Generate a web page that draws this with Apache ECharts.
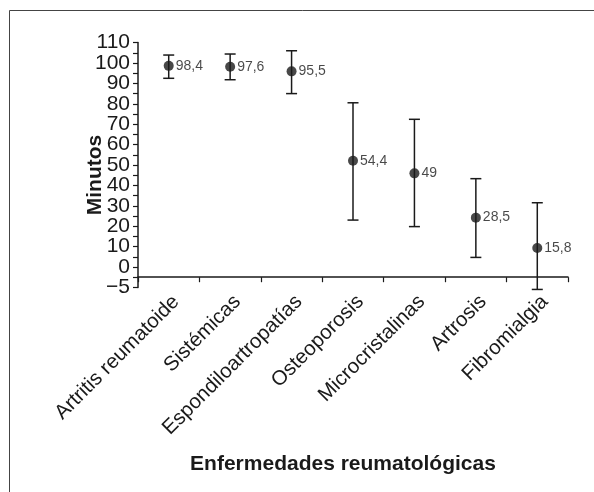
<!DOCTYPE html>
<html>
<head>
<meta charset="utf-8">
<script src="https://cdn.jsdelivr.net/npm/echarts@6/dist/echarts.min.js"></script>
<style>html,body{margin:0;padding:0;background:#fff;}#c{width:594px;height:492px;}</style>
</head>
<body>
<div id="c"></div>
<script>
var categories = ['Artritis reumatoide','Sistémicas','Espondiloartropatías','Osteoporosis','Microcristalinas','Artrosis','Fibromialgia'];
var means = [98.6, 98.2, 95.9, 52.1, 45.9, 24.2, 9.3];
var lower = [92.5, 91.8, 85, 23, 19.8, 4.7, -11];
var upper = [103.9, 104.4, 106, 80.5, 72.4, 43.3, 31.5];
var pointLabels = ['98,4','97,6','95,5','54,4','49','28,5','15,8'];

var ink = '#1a1a1a';
var chart = echarts.init(document.getElementById('c'), null, {renderer: 'canvas'});
var errData = categories.map(function (c, i) { return [i, lower[i], upper[i]]; });

chart.setOption({
  animation: false,
  backgroundColor: '#fff',
  graphic: [{
    type: 'rect', shape: {x: 9.5, y: 10.5, width: 700, height: 600},
    style: {fill: 'none', stroke: '#444', lineWidth: 1}, silent: true, z: -10
  }],
  grid: {left: 138, right: 26, top: 42.6, bottom: 204.6, containLabel: false},
  xAxis: {
    type: 'category',
    data: categories,
    offset: -10.2,
    boundaryGap: true,
    axisLine: {show: true, onZero: false, lineStyle: {color: ink, width: 1.5}},
    axisTick: {show: true, length: 5, alignWithLabel: false, lineStyle: {color: ink, width: 1.2}},
    axisLabel: {rotate: 45, interval: 0, margin: 14, fontSize: 20.5, color: ink, verticalAlign: 'top', fontFamily: 'Liberation Sans, Arial, sans-serif'},
    name: 'Enfermedades reumatológicas',
    nameLocation: 'middle',
    nameGap: 177,
    nameMoveOverlap: false,
    nameTextStyle: {fontSize: 21, fontWeight: 'bold', color: ink, fontFamily: 'Liberation Sans, Arial, sans-serif', padding: [0, 20, 0, 0]}
  },
  yAxis: {
    type: 'value',
    min: -10, max: 110, interval: 5,
    splitLine: {show: false},
    axisLine: {show: true, lineStyle: {color: ink, width: 1.5}},
    axisTick: {show: true, length: 5, lineStyle: {color: ink, width: 1.2}},
    axisLabel: {
      fontSize: 21, color: ink, margin: 8, fontFamily: 'Liberation Sans, Arial, sans-serif',
      formatter: function (v) { if (v === -10) return '\u22125'; return (v % 10 === 0) ? String(v) : ''; }
    },
    name: 'Minutos',
    nameLocation: 'middle',
    nameGap: 32,
    nameMoveOverlap: false,
    nameTextStyle: {fontSize: 21, fontWeight: 'bold', color: ink, fontFamily: 'Liberation Sans, Arial, sans-serif', padding: [0, 20, 0, 0]}
  },
  series: [{
    type: 'custom',
    data: errData,
    clip: false,
    renderItem: function (params, api) {
      var x = api.value(0);
      var lo = api.coord([x, api.value(1)]);
      var hi = api.coord([x, api.value(2)]);
      var hw = 5.5;
      var st = {stroke: ink, lineWidth: 1.5};
      return {type: 'group', children: [
        {type: 'line', shape: {x1: lo[0], y1: lo[1], x2: hi[0], y2: hi[1]}, style: st},
        {type: 'line', shape: {x1: lo[0] - hw, y1: lo[1], x2: lo[0] + hw, y2: lo[1]}, style: st},
        {type: 'line', shape: {x1: hi[0] - hw, y1: hi[1], x2: hi[0] + hw, y2: hi[1]}, style: st}
      ]};
    },
    z: 2
  }, {
    type: 'scatter',
    data: means,
    symbol: 'circle',
    symbolSize: 10,
    itemStyle: {color: ink},
    label: {
      show: true, position: 'right', distance: 2, fontSize: 14, color: ink,
      fontFamily: 'Liberation Sans, Arial, sans-serif',
      formatter: function (p) { return pointLabels[p.dataIndex]; }
    },
    z: 3
  }]
});
</script>
</body>
</html>
